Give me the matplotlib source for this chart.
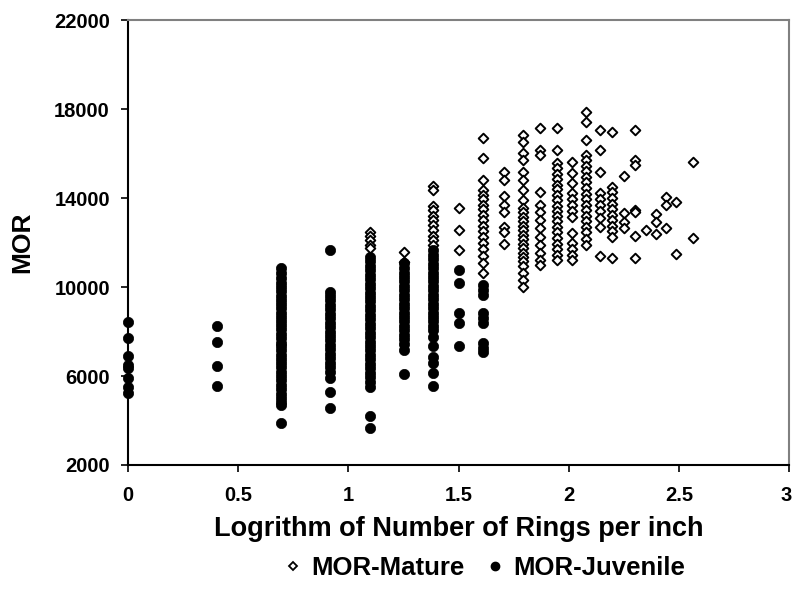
import numpy as np
import matplotlib
matplotlib.use("Agg")
import matplotlib.pyplot as plt
import matplotlib.transforms as mtransforms
from matplotlib.lines import Line2D

# x positions are log(rings per inch) columns
mature = {
    1.0986: [12490, 12300, 12100, 11900, 11740],
    1.2528: [11590, 11140],
    1.3863: [14540, 14360, 13640, 13460, 13190, 13000, 12800, 12560, 12300, 12110, 11890],
    1.5041: [13560, 12560, 11660],
    1.6094: [16680, 15780, 14810, 14360, 14150, 13950, 13700, 13500, 13250, 13000, 12750,
             12500, 12260, 11980, 11700, 11400, 11080, 10630],
    1.7047: [15180, 14810, 14090, 13690, 13380, 12710, 12490, 11950],
    1.7918: [16830, 16530, 16010, 15710, 15180, 14810, 14360, 13910, 13550, 13350, 13150,
             12950, 12750, 12550, 12350, 12150, 11950, 11750, 11550, 11350, 11150, 10950,
             10630, 10310, 10010],
    1.8718: [17160, 16160, 15930, 14280, 13690, 13380, 13010, 12640, 12260, 11890, 11510,
             11210, 10990],
    1.9459: [17160, 16160, 15570, 15350, 15100, 14850, 14600, 14400, 14150, 13900, 13650,
             13400, 13200, 12950, 12700, 12450, 12200, 11950, 11700, 11450, 11210],
    2.0149: [15630, 15110, 14660, 14220, 13950, 13680, 13400, 13150, 12430, 11980, 11720,
             11460, 11210],
    2.0794: [17880, 17430, 16610, 15930, 15700, 15450, 15200, 14950, 14700, 14450, 14200,
             13950, 13700, 13450, 13200, 12950, 12700, 12450, 12150, 11890],
    2.1401: [17060, 16160, 15180, 14220, 13950, 13680, 13400, 13100, 12700, 11410],
    2.1972: [16980, 14510, 14250, 14000, 13750, 13500, 13250, 13000, 12750, 12500, 12260, 11290],
    2.2513: [14990, 13310, 12940, 12640],
    2.3026: [17060, 15710, 15480, 13460, 13380, 12290, 11290],
    2.3514: [12560],
    2.3979: [13280, 12940, 12380],
    2.4423: [14060, 13690, 12670],
    2.4849: [13830, 11480],
    2.5649: [15630, 12220],
}

juvenile = {
    0.0: [8440, 7720, 6900, 6490, 6360, 5920, 5520, 5220],
    0.4055: [8250, 7540, 6450, 5550],
    0.6931: [10850, 10650, 10400, 10200, 10000, 9800, 9600, 9400, 9250, 9050, 8850, 8650,
             8450, 8300, 8100, 7900, 7700, 7500, 7350, 7150, 6950, 6750, 6600, 6400, 6200,
             6000, 5800, 5600, 5400, 5200, 5000, 4850, 4700, 3890],
    0.9163: [11660, 9790, 9600, 9400, 9200, 9000, 8800, 8600, 8400, 8200, 8000, 7800, 7600,
             7400, 7200, 7000, 6800, 6600, 6400, 6200, 5910, 5280, 4580],
    1.0986: [11360, 11150, 10950, 10750, 10550, 10350, 10150, 9950, 9750, 9550, 9350, 9150,
             8950, 8750, 8550, 8350, 8150, 7950, 7750, 7550, 7350, 7150, 6950, 6750, 6550,
             6350, 6150, 5950, 5750, 5520, 4220, 3680],
    1.2528: [11060, 10850, 10650, 10450, 10250, 10050, 9850, 9650, 9450, 9250, 9050, 8850,
             8650, 8450, 8250, 8050, 7850, 7650, 7450, 7170, 6090],
    1.3863: [11660, 11450, 11250, 11050, 10850, 10650, 10450, 10250, 10050, 9850, 9650, 9450,
             9250, 9050, 8850, 8650, 8450, 8250, 8050, 7770, 7350, 6840, 6600, 6120, 5560],
    1.5041: [10760, 10190, 8840, 8370, 7350],
    1.6094: [10090, 9850, 9640, 8830, 8600, 8380, 7480, 7280, 7080],
}

x_ticks = [0, 0.5, 1, 1.5, 2, 2.5, 3]
x_tick_labels = ["0", "0.5", "1", "1.5", "2", "2.5", "3"]
y_ticks = [2000, 6000, 10000, 14000, 18000, 22000]

plt.rcParams['font.family'] = ['Liberation Sans', 'DejaVu Sans']
plt.rcParams['font.weight'] = 'bold'

fig = plt.figure(figsize=(7.93, 5.92), dpi=100)
ax = fig.add_axes([128/793, 1-465/592, (789-128)/793, (465-20)/592])

mx = [x for x, vals in mature.items() for _ in vals]
my = [v for vals in mature.values() for v in vals]
jx = [x for x, vals in juvenile.items() for _ in vals]
jy = [v for vals in juvenile.values() for v in vals]

ax.scatter(mx, my, marker='D', s=24, facecolors='white', edgecolors='black',
           linewidths=1.4, zorder=3, clip_on=False)
ax.scatter(jx, jy, marker='o', s=55, facecolors='black', edgecolors='black',
           linewidths=0.5, zorder=4, clip_on=False)

ax.set_xlim(0, 3)
ax.set_ylim(2000, 22000)
ax.set_xticks(x_ticks)
ax.set_xticklabels(x_tick_labels)
ax.set_yticks(y_ticks)
ax.set_yticklabels([str(t) for t in y_ticks])
ax.tick_params(direction='out', length=5, width=1.2, labelsize=14.5)
ax.tick_params(axis='x', pad=10)
ax.tick_params(axis='y', pad=8)
for lab in ax.get_xticklabels() + ax.get_yticklabels():
    lab.set_fontweight('bold')

# keep the last x tick label inside the figure
last = ax.get_xticklabels()[-1]
last.set_horizontalalignment('right')
last.set_transform(last.get_transform() +
                   mtransforms.ScaledTranslation(3/100, 0, fig.dpi_scale_trans))

for s in ['left', 'bottom']:
    ax.spines[s].set_color('black')
    ax.spines[s].set_linewidth(1.5)
for s in ['top', 'right']:
    ax.spines[s].set_color('#808080')
    ax.spines[s].set_linewidth(1.5)

ax.set_xlabel("Logrithm of Number of Rings per inch", fontsize=19.5,
              fontweight='bold', labelpad=8)
ax.set_ylabel("MOR", fontsize=19, fontweight='bold', labelpad=14)

handles = [
    Line2D([], [], marker='D', linestyle='none', markerfacecolor='white',
           markeredgecolor='black', markersize=4.5, markeredgewidth=1.3, label='MOR-Mature'),
    Line2D([], [], marker='o', linestyle='none', markerfacecolor='black',
           markeredgecolor='black', markersize=6, label='MOR-Juvenile'),
]
fig.legend(handles=handles, loc='center', bbox_to_anchor=(484/793, 1-568/592),
           ncol=2, frameon=False, handletextpad=0.3, columnspacing=0.8,
           prop={'weight': 'bold', 'size': 18.5}, handlelength=0.8)

fig.savefig("out.png", dpi=100)
